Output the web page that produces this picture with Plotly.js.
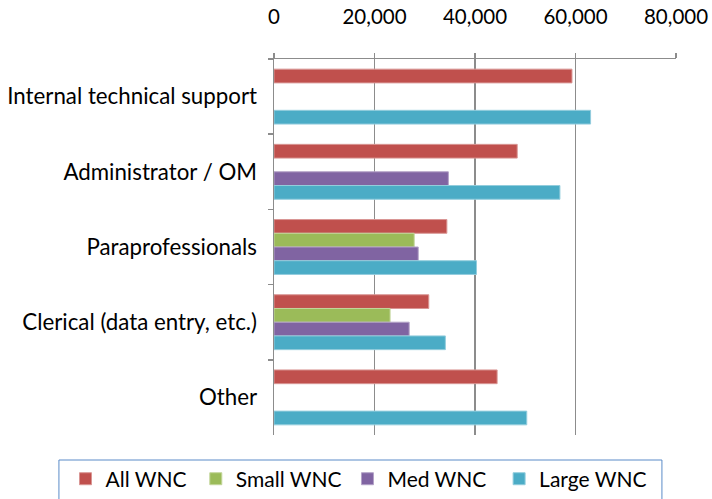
<!DOCTYPE html>
<html>
<head>
<meta charset="utf-8">
<script src="https://cdn.plot.ly/plotly-3.0.1.min.js"></script>
<style>html,body{margin:0;padding:0;background:#fff}#chart{width:712px;height:499px}</style>
</head>
<body>
<div id="chart"></div>
<script>
const categories = ["Internal technical support", "Administrator / OM", "Paraprofessionals", "Clerical (data entry, etc.)", "Other"];
const seriesNames = ["All WNC", "Small WNC", "Med WNC", "Large WNC"];
const allWNC   = [59300, 48400, 34400, 30800, 44400];
const smallWNC = [null,  null,  27900, 23100, null];
const medWNC   = [null,  34700, 28700, 26900, null];
const largeWNC = [63000, 56900, 40300, 34100, 50300];
const xTicks = [0, 20000, 40000, 60000, 80000];
const xTickLabels = ["0", "20,000", "40,000", "60,000", "80,000"];

const colors = ["#C0504D", "#9BBB59", "#8064A2", "#4BACC6"];
const lineColors = ["#D99694", "#C3D69B", "#B3A2C7", "#93CDDD"];
const seriesValues = [allWNC, smallWNC, medWNC, largeWNC];
const legendIds = ["legend", "legend2", "legend3", "legend4"];
const legendX = [0.092, 0.275, 0.488, 0.701];

const FONT = "Lato, Carlito, 'Open Sans', sans-serif";

const traces = seriesValues.map((vals, i) => ({
  type: "bar",
  orientation: "h",
  name: seriesNames[i],
  x: vals,
  y: categories,
  legend: legendIds[i],
  marker: {color: colors[i], line: {color: lineColors[i], width: 1}},
  hoverinfo: "x+name"
}));

const layout = {
  width: 712,
  height: 499,
  margin: {l: 274, r: 36, t: 59, b: 64, pad: 0},
  paper_bgcolor: "#fff",
  plot_bgcolor: "#fff",
  barmode: "group",
  bargap: 0.27,
  bargroupgap: 0,
  font: {family: FONT, size: 21, color: "#000"},
  showlegend: true,
  xaxis: {
    side: "top",
    range: [0, 80000],
    tickvals: xTicks,
    ticktext: xTickLabels,
    showgrid: true,
    gridcolor: "#8C8C8C",
    gridwidth: 1.5,
    showline: true,
    linecolor: "#8C8C8C",
    linewidth: 1.5,
    ticks: "outside",
    ticklen: 5,
    tickwidth: 1.5,
    tickcolor: "#8C8C8C",
    ticklabelstandoff: 20,
    zeroline: false,
    fixedrange: true,
    tickfont: {family: FONT, size: 20.5, color: "#000"}
  },
  yaxis: {
    type: "category",
    autorange: "reversed",
    tickson: "boundaries",
    ticks: "outside",
    ticklen: 5,
    tickwidth: 1.5,
    tickcolor: "#8C8C8C",
    showline: true,
    linecolor: "#8C8C8C",
    linewidth: 1.5,
    showgrid: false,
    ticklabelstandoff: 11,
    fixedrange: true,
    tickfont: {family: FONT, size: 22.3, color: "#000"}
  },
  shapes: [{
    type: "rect",
    xref: "paper", yref: "paper",
    x0: -0.535, x1: 0.965,
    y0: -0.0665, y1: -0.2,
    line: {color: "#5B8BC8", width: 1},
    fillcolor: "rgba(0,0,0,0)",
    layer: "below"
  }]
};

legendIds.forEach((id, i) => {
  layout[id] = {
    orientation: "h",
    xref: "container",
    yref: "container",
    x: legendX[i],
    xanchor: "left",
    y: 0.081,
    yanchor: "top",
    font: {family: FONT, size: 21, color: "#000"},
    borderwidth: 0,
    bgcolor: "rgba(0,0,0,0)"
  };
});

Plotly.newPlot("chart", traces, layout, {displayModeBar: false, staticPlot: true});
</script>
</body>
</html>
